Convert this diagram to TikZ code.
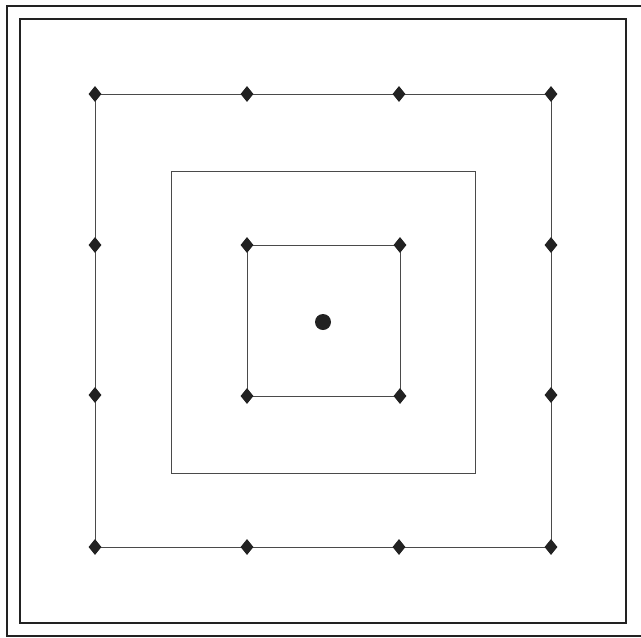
\documentclass[tikz,border=0pt]{standalone}
\usetikzlibrary{shapes.geometric}
\definecolor{ink}{HTML}{222222}
\definecolor{thin}{HTML}{4a4a4a}
\begin{document}
\begin{tikzpicture}[x=1pt,y=-1pt,
  marker/.style={diamond,fill=ink,draw=none,inner sep=0pt,minimum width=13pt,minimum height=16pt},
  frameline/.style={draw=ink,line width=2.2pt},
  gridline/.style={draw=thin,line width=1pt},
  midline/.style={draw=thin,line width=0.8pt}]
\useasboundingbox (0,0) rectangle (641,638);
% double frame
\draw[frameline] (645,6) -- (7,6) -- (7,636) -- (645,636);
\draw[frameline] (20,19) rectangle (626,623);
% middle square
\draw[midline] (171,171) rectangle (475,473);
% outer marker ring
\foreach \i/\x in {0/95,1/247,2/399,3/551}{
  \foreach \j/\y in {0/94,1/245,2/395,3/547}{
    \coordinate (p\i\j) at (\x,\y);
  }
}
\draw[gridline] (p00) -- (p30) -- (p33) -- (p03) -- cycle;
\foreach \n in {p00,p10,p20,p30,p01,p31,p02,p32,p03,p13,p23,p33}{
  \node[marker] (m\n) at (\n) {};
}
% inner square
\coordinate (q00) at (247,245);
\coordinate (q10) at (400,245);
\coordinate (q11) at (400,396);
\coordinate (q01) at (247,396);
\draw[gridline] (q00) -- (q10) -- (q11) -- (q01) -- cycle;
\foreach \n in {q00,q10,q11,q01}{
  \node[marker] (m\n) at (\n) {};
}
% centre dot
\node[circle,fill=ink,inner sep=0pt,minimum size=16pt] (centre) at (323,322) {};
\end{tikzpicture}
\end{document}
